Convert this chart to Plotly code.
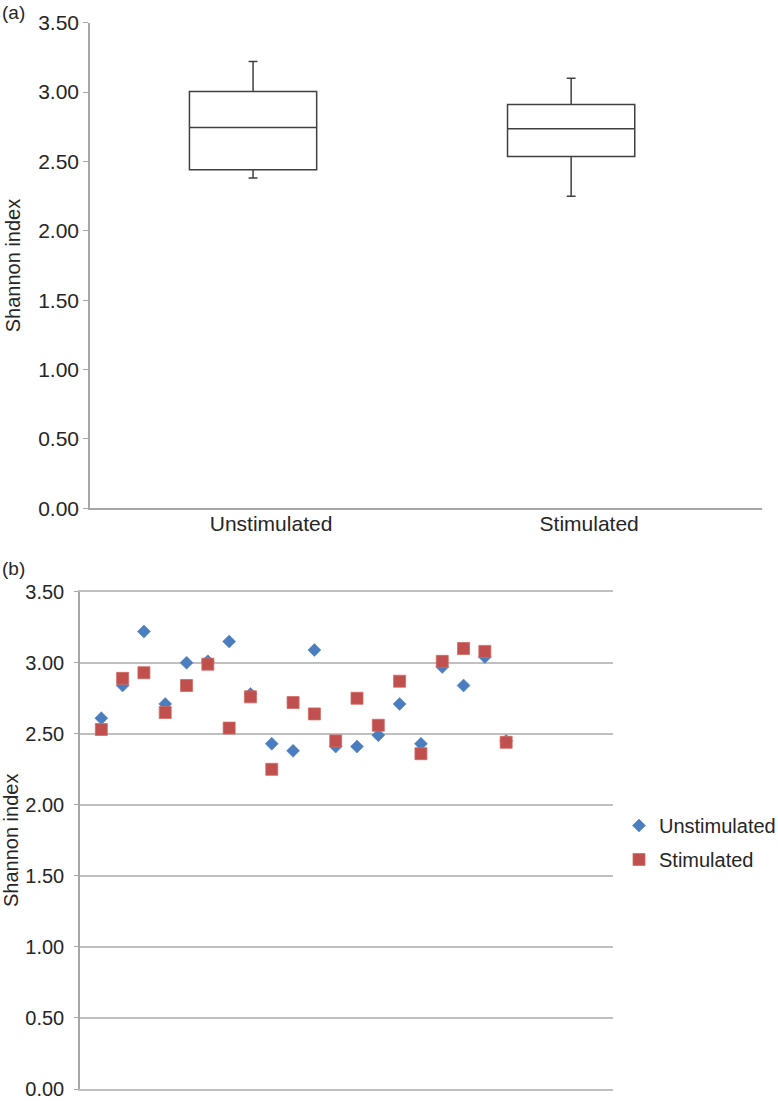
import plotly.graph_objects as go

# ---- data ----
samples = [1, 2, 3, 4, 5, 6, 7, 8, 9, 10, 11, 12, 13, 14, 15, 16, 17, 18, 19, 20]
unstimulated = [2.61, 2.84, 3.22, 2.71, 3.00, 3.01, 3.15, 2.78, 2.43, 2.38,
                3.09, 2.41, 2.41, 2.49, 2.71, 2.43, 2.97, 2.84, 3.04, 2.45]
stimulated = [2.53, 2.89, 2.93, 2.65, 2.84, 2.99, 2.54, 2.76, 2.25, 2.72,
              2.64, 2.45, 2.75, 2.56, 2.87, 2.36, 3.01, 3.10, 3.08, 2.44]
groups = ["Unstimulated", "Stimulated"]
y_ticks = [0.0, 0.5, 1.0, 1.5, 2.0, 2.5, 3.0, 3.5]

W, H = 778, 1101
FONT = "Liberation Sans, Arial, Helvetica, sans-serif"
TXT = "#262626"
AXC = "#a6a6a6"
GRID = "#c0c0c0"

fig = go.Figure()

# ---- panel (a): box plots ----
for g, vals in zip(groups, [unstimulated, stimulated]):
    fig.add_trace(go.Box(
        x=[g] * len(vals), y=vals, name=g,
        boxpoints=False, quartilemethod="linear",
        fillcolor="white", line=dict(color="#404040", width=1.5),
        whiskerwidth=0.07, width=0.4, showlegend=False,
        xaxis="x", yaxis="y", hoverinfo="skip",
    ))

# ---- panel (b): scatter ----
fig.add_trace(go.Scatter(
    x=samples, y=unstimulated, mode="markers", name="Unstimulated",
    legendgroup="u",
    marker=dict(symbol="diamond", size=10, color="#4a7ebf",
                line=dict(width=0.5, color="#4a7ebf")),
    xaxis="x2", yaxis="y2",
))
fig.add_trace(go.Scatter(
    x=samples, y=stimulated, mode="markers", name="Stimulated",
    legendgroup="s",
    marker=dict(symbol="square", size=12, color="#c0504d",
                line=dict(width=0.8, color="#d46a66")),
    xaxis="x2", yaxis="y2",
))

def px_x(p):
    return p / W

def px_y(p):
    return 1 - p / H

fig.update_layout(
    width=W, height=H,
    margin=dict(l=0, r=0, t=0, b=0, pad=0, autoexpand=False),
    paper_bgcolor="white", plot_bgcolor="white",
    font=dict(family=FONT, color=TXT, size=20),
    boxmode="overlay",
    showlegend=True,
    legend=dict(x=px_x(619), y=px_y(806), xanchor="left", yanchor="top",
                font=dict(size=20, color=TXT, family=FONT),
                bgcolor="rgba(0,0,0,0)", tracegroupgap=5),
    xaxis=dict(
        domain=[px_x(90), px_x(762)], anchor="y", type="category",
        categoryorder="array", categoryarray=groups,
        range=[-0.5126, 1.600], showgrid=False, zeroline=False,
        showline=True, linecolor=AXC, linewidth=1.5, ticks="",
        ticklabelshift=18, ticklabelstandoff=-4, automargin=False,
        tickfont=dict(size=21, color=TXT, family=FONT),
    ),
    yaxis=dict(
        domain=[px_y(508.3), px_y(22.7)], anchor="x",
        range=[0, 3.5], tickvals=y_ticks, tickformat=".2f",
        showgrid=False, zeroline=False, showline=True, linecolor=AXC,
        linewidth=1.5, ticks="outside", ticklen=5, tickcolor=AXC,
        title=dict(text="Shannon index", font=dict(size=20, color=TXT), standoff=12),
        automargin=False, ticklabeloverflow="allow",
        tickfont=dict(size=21, color=TXT, family=FONT),
    ),
    xaxis2=dict(
        domain=[px_x(80), px_x(612.7)], anchor="y2",
        range=[0, 25], showgrid=False, zeroline=False, showticklabels=False,
        showline=True, mirror=True, linecolor=GRID, linewidth=1.5, ticks="",
        automargin=False,
    ),
    yaxis2=dict(
        domain=[px_y(1089), px_y(591.7)], anchor="x2",
        range=[0, 3.5], tickvals=y_ticks, tickformat=".2f",
        showgrid=True, gridcolor=GRID, gridwidth=1.5, zeroline=False,
        showline=True, linecolor=AXC, linewidth=1.5, ticks="outside",
        ticklen=4, tickcolor=AXC, automargin=False, ticklabelstandoff=6,
        ticklabeloverflow="allow",
        title=dict(text="Shannon index", font=dict(size=20, color=TXT), standoff=8),
        tickfont=dict(size=20, color=TXT, family=FONT),
    ),
    annotations=[
        dict(text="(a)", x=0, y=px_y(0), xref="paper", yref="paper",
             xanchor="left", yanchor="top", showarrow=False,
             font=dict(size=19, color=TXT)),
        dict(text="(b)", x=0, y=px_y(556), xref="paper", yref="paper",
             xanchor="left", yanchor="top", showarrow=False,
             font=dict(size=19, color=TXT)),
    ],
)

fig.write_html("out.html", config={"displayModeBar": False},
               post_script="document.body.style.margin='0';")
